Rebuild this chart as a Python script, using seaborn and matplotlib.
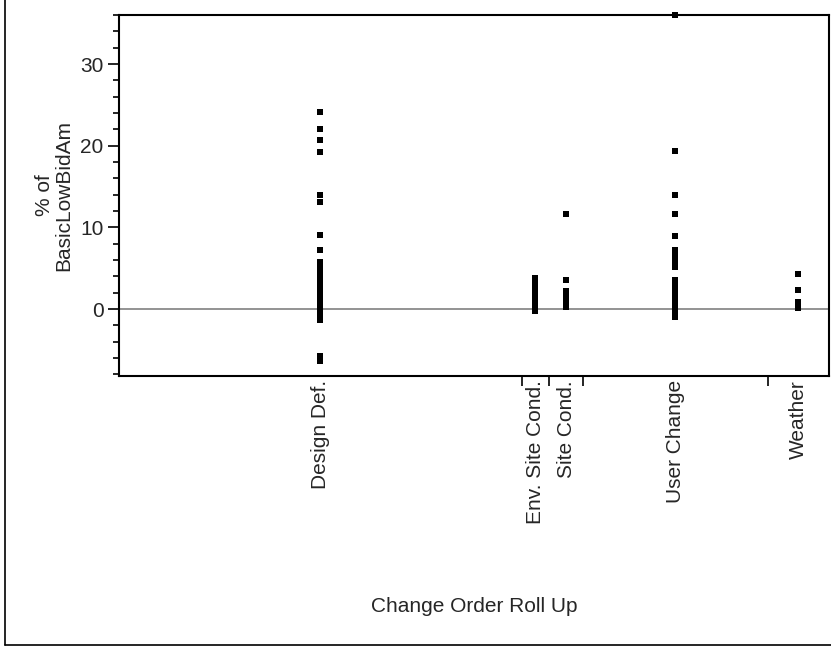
import numpy as np
import pandas as pd
import matplotlib
matplotlib.use("Agg")
import matplotlib.pyplot as plt
import seaborn as sns
from matplotlib.lines import Line2D

sns.set_style("white")
plt.rcParams['font.family'] = ['Liberation Sans', 'DejaVu Sans']

categories = ["Design Def.", "Env. Site Cond.", "Site Cond.", "User Change", "Weather"]
group_counts = [59, 4, 5, 27, 9]

design_vals = [24.1, 22.1, 20.7, 19.2, 14.0, 13.1, 9.1, 7.2, 5.8, 5.3, 4.9, 4.5, 4.0,
               3.6, 3.2, 2.8, 2.4, 2.0, 1.7, 1.4, 1.1, 0.8, 0.5, 0.3, 0.1, 0.0, -0.2,
               -0.5, -0.8, -1.1, -1.3, -5.8, -6.4]
env_vals = [3.8, 3.3, 2.8, 2.3, 1.8, 1.3, 0.9, 0.6, 0.3, 0.0, -0.3]
site_vals = [11.6, 3.5, 2.2, 1.8, 1.4, 1.0, 0.6, 0.2]
user_vals = [36.0, 19.4, 14.0, 11.6, 8.9, 7.2, 6.7, 6.2, 5.7, 5.2, 3.6, 3.1, 2.6,
             2.1, 1.6, 1.1, 0.6, 0.1, -0.4, -1.0]
weather_vals = [4.3, 2.3, 0.9, 0.5, 0.1]
all_vals = [design_vals, env_vals, site_vals, user_vals, weather_vals]

y_ticks = [0, 10, 20, 30]
y_label = "% of\nBasicLowBidAm"
x_label = "Change Order Roll Up"

# category spans proportional to counts
edges = np.concatenate([[0], np.cumsum(group_counts)])
centers = (edges[:-1] + edges[1:]) / 2.0

rows = []
for cat, c, vals in zip(categories, centers, all_vals):
    for v in vals:
        rows.append({"cat": cat, "xpos": c, "val": v})
df = pd.DataFrame(rows)

W, H = 831, 649
fig = plt.figure(figsize=(W / 100, H / 100), dpi=100)
ax = fig.add_axes([119 / W, 1 - 376 / H, (829 - 119) / W, (376 - 15) / H])

ax.axhline(0, color="#808080", lw=1.2, zorder=1)

sc = sns.scatterplot(data=df, x="xpos", y="val", marker="s", s=14, color="black",
                     linewidth=0, ax=ax, legend=False, zorder=3)
for coll in ax.collections:
    coll.set_clip_on(False)

ax.set_xlim(edges[0], edges[-1])
ax.set_ylim(-8.2, 36.0)

ax.set_yticks(y_ticks)
ax.set_yticks(np.arange(-8, 37, 2), minor=True)
ax.tick_params(axis="y", which="major", direction="out", length=8, width=1.2,
               labelsize=15, pad=3, color="black", left=True)
ax.tick_params(axis="y", which="minor", direction="out", length=4.5, width=1.2,
               color="black", left=True)

ax.set_xticks(edges[1:-1])
ax.set_xticklabels([])
ax.set_xticks(centers, minor=True)
ax.set_xticklabels(categories, minor=True, rotation=90, fontsize=15, va="top", ha="center")
ax.tick_params(axis="x", which="major", direction="out", length=7, width=1.2,
               color="black", bottom=True)
ax.tick_params(axis="x", which="minor", length=0, pad=3)

ax.set_xlabel("")
ax.set_ylabel(y_label, fontsize=15, linespacing=1.05, labelpad=5)

for sp in ax.spines.values():
    sp.set_visible(True)
    sp.set_color("black")
    sp.set_linewidth(1.5)

fig.text(474 / W, 1 - 607 / H, x_label, ha="center", va="center", fontsize=15)

# outer frame
fig.add_artist(Line2D([4.5 / W, 4.5 / W], [1 - 645 / H, 1.0], transform=fig.transFigure,
                      color="black", lw=1.2))
fig.add_artist(Line2D([4.5 / W, 1.0], [1 - 645 / H, 1 - 645 / H], transform=fig.transFigure,
                      color="black", lw=1.2))

fig.savefig("out.png", dpi=100)
